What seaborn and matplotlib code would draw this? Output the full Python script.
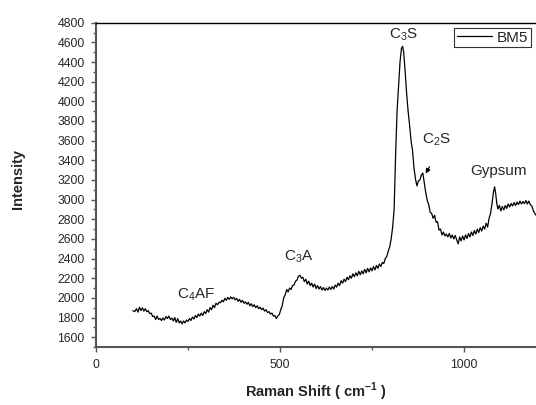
import matplotlib
matplotlib.use("Agg")
import matplotlib.pyplot as plt
from matplotlib.ticker import MultipleLocator
import seaborn as sns
import pandas as pd

# --- Data ---
shift = [100, 105, 110, 114, 118, 122, 126, 130, 134, 138, 142, 146, 150, 154, 158, 162, 166, 170,
         174, 178, 182, 186, 190, 194, 198, 202, 206, 210, 214, 218, 222, 226, 230, 234, 238, 242,
         246, 250, 254, 258, 262, 266, 270, 274, 278, 282, 286, 290, 294, 298, 302, 306, 310, 314,
         318, 322, 326, 330, 334, 338, 342, 346, 350, 354, 358, 362, 366, 370, 374, 378, 382, 386,
         390, 394, 398, 402, 406, 410, 414, 418, 422, 426, 430, 434, 438, 442, 446, 450, 454, 458,
         462, 466, 470, 474, 478, 482, 486, 490, 494, 498, 502, 506, 510, 514, 518, 522, 526, 530,
         534, 538, 542, 546, 550, 554, 558, 562, 566, 570, 574, 578, 582, 586, 590, 594, 598, 602,
         606, 610, 614, 618, 622, 626, 630, 634, 638, 642, 646, 650, 654, 658, 662, 666, 670, 674,
         678, 682, 686, 690, 694, 698, 702, 706, 710, 714, 718, 722, 726, 730, 734, 738, 742, 746,
         750, 754, 758, 762, 766, 770, 774, 778, 782, 786, 790, 794, 798, 802, 806, 810, 814, 818,
         822, 826, 830, 833, 836, 840, 844, 848, 852, 856, 860, 864, 868, 872, 876, 880, 884, 888,
         892, 896, 900, 904, 908, 912, 916, 920, 924, 928, 932, 936, 940, 944, 948, 952, 956, 960,
         964, 968, 972, 976, 980, 984, 988, 992, 996, 1000, 1004, 1008, 1012, 1016, 1020, 1024,
         1028, 1032, 1036, 1040, 1044, 1048, 1052, 1056, 1060, 1064, 1068, 1072, 1076, 1080, 1083,
         1086, 1089, 1092, 1096, 1100, 1104, 1108, 1112, 1116, 1120, 1124, 1128, 1132, 1136, 1140,
         1144, 1148, 1152, 1156, 1160, 1164, 1168, 1172, 1176, 1180, 1184, 1188, 1192, 1196, 1200]
intensity = [1870, 1860, 1890, 1855, 1905, 1870, 1900, 1865, 1890, 1860, 1870, 1840, 1845, 1810, 1815,
             1780, 1815, 1780, 1790, 1770, 1795, 1775, 1810, 1790, 1815, 1780, 1795, 1765, 1800, 1750,
             1790, 1745, 1765, 1735, 1765, 1745, 1775, 1760, 1790, 1770, 1805, 1785, 1820, 1800, 1835,
             1815, 1845, 1820, 1860, 1840, 1880, 1855, 1900, 1880, 1925, 1900, 1945, 1930, 1955, 1950,
             1975, 1960, 1995, 1975, 2005, 1985, 2010, 1990, 2005, 1980, 1995, 1965, 1985, 1955, 1975,
             1945, 1960, 1935, 1955, 1920, 1940, 1910, 1930, 1900, 1920, 1890, 1905, 1880, 1895, 1865,
             1880, 1850, 1860, 1835, 1845, 1815, 1820, 1790, 1815, 1830, 1880, 1920, 2000, 2030, 2085,
             2060, 2100, 2085, 2125, 2130, 2170, 2180, 2220, 2230, 2200, 2210, 2165, 2190, 2140, 2170,
             2125, 2150, 2110, 2140, 2095, 2125, 2090, 2115, 2080, 2105, 2075, 2100, 2080, 2110, 2085,
             2115, 2090, 2130, 2110, 2150, 2125, 2175, 2150, 2190, 2165, 2210, 2185, 2225, 2200, 2245,
             2215, 2255, 2225, 2270, 2235, 2275, 2245, 2290, 2255, 2300, 2265, 2305, 2275, 2320, 2285,
             2330, 2300, 2345, 2320, 2360, 2350, 2400, 2420, 2475, 2520, 2600, 2720, 2900, 3450, 3900,
             4150, 4400, 4540, 4560, 4500, 4300, 4080, 3900, 3760, 3600, 3500, 3320, 3210, 3140, 3190,
             3200, 3250, 3270, 3170, 3070, 2990, 2950, 2870, 2860, 2810, 2840, 2770, 2775, 2690, 2700,
             2640, 2670, 2630, 2650, 2620, 2655, 2610, 2640, 2600, 2635, 2590, 2550, 2620, 2580, 2630,
             2590, 2640, 2605, 2655, 2620, 2670, 2635, 2685, 2650, 2700, 2665, 2715, 2680, 2730, 2700,
             2760, 2720, 2810, 2860, 2960, 3080, 3130, 3060, 2960, 2905, 2940, 2885, 2930, 2895, 2940,
             2910, 2955, 2925, 2960, 2935, 2970, 2940, 2975, 2950, 2985, 2955, 2980, 2960, 2990, 2955,
             2985, 2950, 2935, 2890, 2860, 2840, 2830]

peak_labels = [r"$\mathregular{C_4AF}$", r"$\mathregular{C_3A}$", r"$\mathregular{C_3S}$",
               r"$\mathregular{C_2S}$", "Gypsum"]
peak_x = [272, 552, 835, 925, 1093]
peak_y = [2034, 2423, 4675, 3609, 3286]

# --- Style ---
sns.set_theme(style="ticks")
plt.rcParams['font.family'] = ['Liberation Sans', 'DejaVu Sans']
plt.rcParams['mathtext.fontset'] = 'custom'
plt.rcParams['mathtext.rm'] = 'Liberation Sans'
plt.rcParams['mathtext.bf'] = 'Liberation Sans:bold'

df = pd.DataFrame({"shift": shift, "intensity": intensity})

fig = plt.figure(figsize=(5.36, 4.05), dpi=100)
ax = fig.add_axes([0.1791, 0.1432, 0.824, 0.8007])
sns.lineplot(data=df, x="shift", y="intensity", color="black", linewidth=0.9, ax=ax, label="BM5")

ax.set_xlim(0, 1200)
ax.set_ylim(1500, 4800)
ax.xaxis.set_major_locator(MultipleLocator(500))
ax.xaxis.set_minor_locator(MultipleLocator(250))
ax.yaxis.set_minor_locator(MultipleLocator(100))
ax.set_yticks(range(1600, 4801, 200))
ax.tick_params(axis="both", which="major", labelsize=8.8, length=3.6, width=1, color="#555555",
               direction="out", pad=4.5)
ax.tick_params(axis="both", which="minor", length=2.2, width=1, color="#555555", direction="out")
ax.tick_params(axis="x", pad=5)

for side in ["left", "bottom"]:
    ax.spines[side].set_color("#555555")
    ax.spines[side].set_linewidth(1.5)
ax.spines["top"].set_color("black")
ax.spines["top"].set_linewidth(1.0)
ax.spines["right"].set_visible(False)

ax.set_xlabel(r"Raman Shift ( cm$^{\mathbf{-1}}$ )", fontsize=10.5, fontweight="bold", va="baseline")
ax.xaxis.set_label_coords(0.498, -0.153)
ax.set_ylabel("Intensity", fontsize=10.5, fontweight="bold", va="center")
ax.yaxis.set_label_coords(-0.1755, 0.518)

for lab, px, py in zip(peak_labels, peak_x, peak_y):
    ax.text(px, py, lab, fontsize=11, ha="center", va="center")

# arrow pointing at the C2S shoulder
ax.annotate("", xy=(892, 3240), xytext=(910, 3360),
            arrowprops=dict(arrowstyle="-|>", color="black", lw=0.8, mutation_scale=7))

leg = ax.legend(loc="upper right", bbox_to_anchor=(0.9844, 0.9827), fontsize=11, frameon=True,
                fancybox=False, edgecolor="black", handlelength=2.3, borderpad=0.15,
                handletextpad=0.35, borderaxespad=0.0)
leg.get_frame().set_linewidth(0.8)

fig.savefig("out.png", dpi=100)
